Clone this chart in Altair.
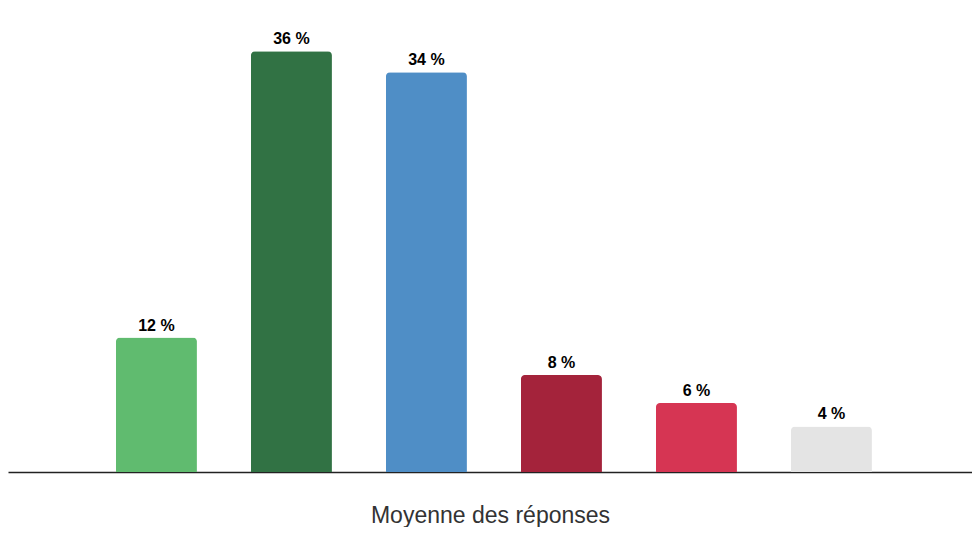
import altair as alt
import pandas as pd

categories = ["A", "B", "C", "D", "E", "F"]
values = [11.5, 36.0, 34.2, 8.3, 5.9, 3.9]
labels = ["12 %", "36 %", "34 %", "8 %", "6 %", "4 %"]
colors = ["#60BB6F", "#317244", "#4F8EC6", "#A4233B", "#D63553", "#E4E4E4"]

df = pd.DataFrame({"cat": categories, "val": values, "label": labels})

x = alt.X("cat:N", sort=categories,
          scale=alt.Scale(paddingInner=0.4, paddingOuter=0.7704, align=0.519),
          axis=alt.Axis(labels=False, ticks=False, grid=False, domain=True,
                        domainColor="#222", domainWidth=1.6,
                        title="Moyenne des réponses", titleFontSize=23,
                        titleFontWeight="normal", titleColor="#333",
                        titleFont="Liberation Sans", titlePadding=32))
y = alt.Y("val:Q", scale=alt.Scale(domain=[0, 39.7], nice=False, zero=True), axis=None)

bars = alt.Chart(df).mark_bar(cornerRadiusTopLeft=4, cornerRadiusTopRight=4).encode(
    x=x, y=y,
    color=alt.Color("cat:N", scale=alt.Scale(domain=categories, range=colors), legend=None),
)
text = alt.Chart(df).mark_text(baseline="alphabetic", dy=-7, fontSize=16, fontWeight="bold",
                               font="Liberation Sans", color="#000").encode(
    x=alt.X("cat:N", sort=categories), y="val:Q", text="label:N")

chart = alt.layer(bars, text).properties(width=964, height=464, padding=0).configure_view(stroke=None)
chart.save("out.html", embed_options={"renderer": "svg", "actions": False})
